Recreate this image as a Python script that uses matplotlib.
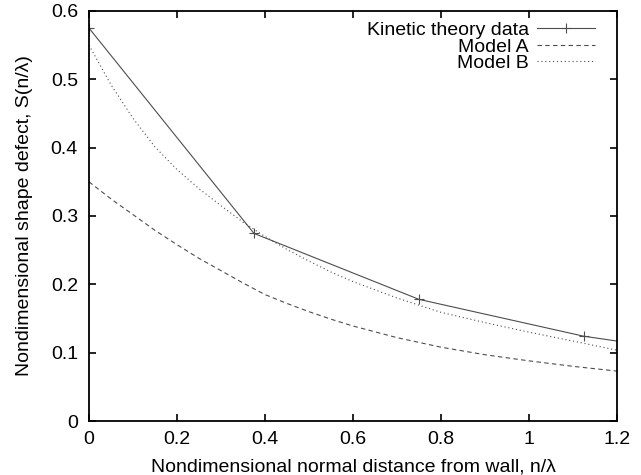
import numpy as np
import matplotlib.pyplot as plt

# DATA
kin_x = [0.0, 0.375, 0.75, 1.125, 1.5]
kin_y = [0.575, 0.2745, 0.178, 0.124, 0.089]

model_x = [0.0, 0.05, 0.1, 0.15, 0.2, 0.25, 0.3, 0.35, 0.4, 0.45, 0.5, 0.55, 0.6,
           0.7, 0.8, 0.9, 1.0, 1.1, 1.2]
modelA_y = [0.350, 0.325, 0.302, 0.279, 0.258, 0.238, 0.220, 0.202, 0.185, 0.172,
            0.160, 0.149, 0.139, 0.122, 0.108, 0.097, 0.088, 0.080, 0.073]
modelB_y = [0.550, 0.492, 0.443, 0.401, 0.368, 0.340, 0.315, 0.291, 0.270, 0.251,
            0.234, 0.218, 0.204, 0.180, 0.159, 0.144, 0.130, 0.117, 0.1035]

xticks = [0, 0.2, 0.4, 0.6, 0.8, 1, 1.2]
xtick_labels = ["0", "0.2", "0.4", "0.6", "0.8", "1", "1.2"]
yticks = [0, 0.1, 0.2, 0.3, 0.4, 0.5, 0.6]
ytick_labels = ["0", "0.1", "0.2", "0.3", "0.4", "0.5", "0.6"]

plt.rcParams['font.family'] = ['Liberation Sans', 'DejaVu Sans']
fs = 14

fig = plt.figure(figsize=(6.41, 4.75), dpi=100)
ax = fig.add_axes([89/641, 1-421/475, (617-89)/641, (421-11)/475])

line_col = '0.3'
ax.plot(kin_x, kin_y, color=line_col, lw=0.8, marker='+', ms=7, mew=0.8,
        label='Kinetic theory data')
ax.plot(model_x, modelA_y, color=line_col, lw=0.8, linestyle=(0, (4, 3)),
        label='Model A')
ax.plot(model_x, modelB_y, color=line_col, lw=0.8, linestyle=(0, (1, 2.5)),
        label='Model B')

ax.set_xlim(0, 1.2)
ax.set_ylim(0, 0.6)
ax.set_xticks(xticks)
ax.set_xticklabels(xtick_labels)
ax.set_yticks(yticks)
ax.set_yticklabels(ytick_labels)
ax.tick_params(axis='both', direction='in', length=5, width=1.2, top=True, right=True,
               labelsize=fs)
ax.tick_params(axis='x', pad=7)
ax.tick_params(axis='y', pad=8)
for s in ax.spines.values():
    s.set_linewidth(1.3)

ax.set_xlabel("Nondimensional normal distance from wall, n/λ", fontsize=fs, labelpad=7.5)
ax.set_ylabel("Nondimensional shape defect, S(n/λ)", fontsize=fs, labelpad=13)

leg = ax.legend(loc='upper right', bbox_to_anchor=(0.984, 1.008), frameon=False,
                markerfirst=False, handlelength=3.0, handletextpad=0.4,
                labelspacing=-0.05, borderaxespad=0.3, fontsize=fs)

fig.savefig('out.png', dpi=100)
